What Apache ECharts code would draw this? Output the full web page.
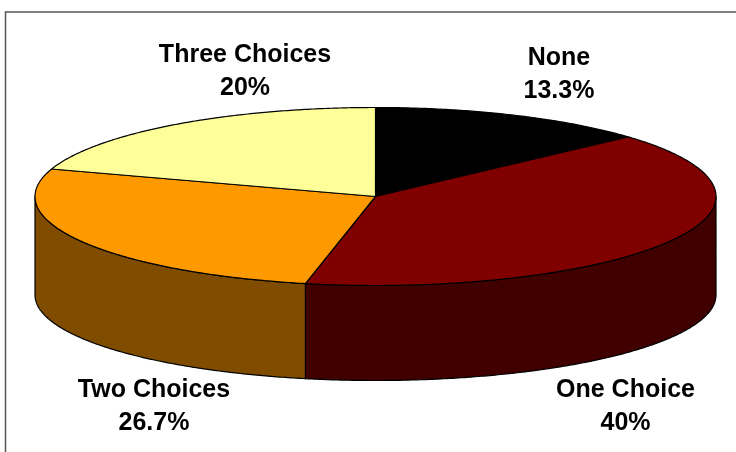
<!DOCTYPE html>
<html>
<head>
<meta charset="utf-8">
<style>html,body{margin:0;padding:0;background:#fff}#c{width:736px;height:452px}</style>
<script src="https://cdn.jsdelivr.net/npm/echarts@6/dist/echarts.min.js"></script>
</head>
<body>
<div id="c"></div>
<script>
const categories = ['None', 'One Choice', 'Two Choices', 'Three Choices'];
const shares = [13.3, 40, 26.7, 20];
const topColors = ['#000000', '#800000', '#FF9900', '#FFFF99'];
const wallColors = ['#000000', '#400000', '#804D00', '#808050'];
const labelCentres = [[559, 74.5], [625.5, 406.5], [154, 406.5], [245, 72]];

const CX = 375.5, CY = 196.5, RX = 340.5, RY = 89;
const BOTTOM_CY = 295, BOTTOM_RY = 85.5;
const total = shares.reduce((a, b) => a + b, 0);
const starts = [];
shares.reduce((acc, v, i) => { starts[i] = acc; return acc + v; }, 0);

function pt(deg, cy, ry) {
  const r = deg * Math.PI / 180;
  return [CX + RX * Math.sin(r), cy - ry * Math.cos(r)];
}
function arc(a, b, cy, ry) {
  const out = [], n = Math.max(2, Math.ceil(Math.abs(b - a) * 2));
  for (let i = 0; i <= n; i++) out.push(pt(a + (b - a) * i / n, cy, ry));
  return out;
}
function range(api) {
  const i = api.value(2);
  const a = starts[i] / total * 360;
  return [a, a + api.value(0) / total * 360];
}
const lineStyle = { stroke: '#000', lineWidth: 1.2, lineJoin: 'round' };

function renderWall(params, api) {
  const [a0, a1] = range(api);
  const a = Math.max(a0, 90), b = Math.min(a1, 270);
  if (b <= a) return { type: 'group', children: [] };
  const pts = arc(a, b, CY, RY).concat(arc(b, a, BOTTOM_CY, BOTTOM_RY));
  return {
    type: 'polygon',
    shape: { points: pts },
    style: Object.assign({ fill: wallColors[api.value(2)] }, lineStyle)
  };
}
function renderTop(params, api) {
  const [a0, a1] = range(api);
  const i = api.value(2);
  const c = labelCentres[i];
  return {
    type: 'group',
    children: [{
      type: 'polygon',
      shape: { points: [[CX, CY]].concat(arc(a0, a1, CY, RY)) },
      style: Object.assign({ fill: topColors[i] }, lineStyle)
    }, {
      type: 'text',
      x: c[0], y: c[1],
      style: {
        text: categories[i] + '\n' + api.value(0) + '%',
        x: 0, y: 0,
        align: 'center', verticalAlign: 'middle',
        font: 'bold 25px "Liberation Sans", Arial, sans-serif',
        lineHeight: 33,
        fill: '#000'
      }
    }]
  };
}
const rows = categories.map((n, i) => [shares[i], n, i]);
const chart = echarts.init(document.getElementById('c'), null, { renderer: 'canvas' });
chart.setOption({
  animation: false,
  backgroundColor: '#ffffff',
  graphic: [{
    type: 'polyline',
    silent: true,
    shape: { points: [[5.5, 452], [5.5, 12], [736, 12]] },
    style: { stroke: '#555555', lineWidth: 1.5, fill: null }
  }],
  series: [
    { type: 'custom', coordinateSystem: 'none', data: rows, renderItem: renderWall, silent: true, z: 2 },
    { type: 'custom', coordinateSystem: 'none', data: rows, renderItem: renderTop, silent: true, z: 3 }
  ]
});
</script>
</body>
</html>
